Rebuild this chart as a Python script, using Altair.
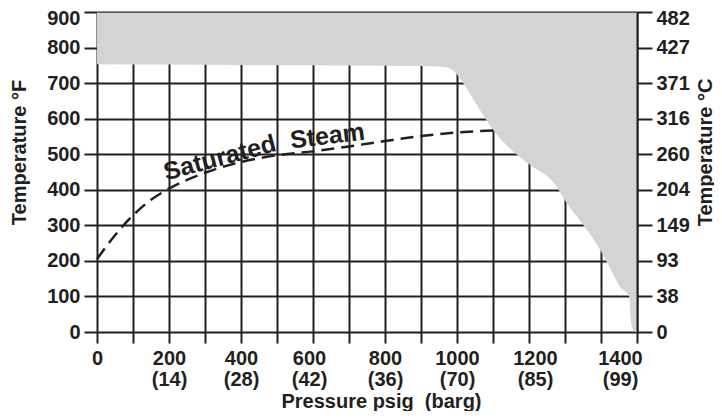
import altair as alt
import pandas as pd

# ---- data ----
# upper boundary of the shaded (not allowed) region
limit_psig = [0, 200, 400, 600, 800, 900, 960, 985, 1000, 1017, 1063, 1100, 1156, 1202,
              1276, 1299, 1350, 1397, 1430, 1452, 1478, 1485, 1497, 1500]
limit_degf = [753, 752, 751, 750, 749, 748, 746, 739, 724, 700, 625, 569, 508, 471,
              410, 372, 302, 232, 170, 128, 100, 16, 0, 0]

# saturated steam curve (dashed)
steam_psig = [0, 50, 100, 150, 200, 300, 400, 500, 600, 700, 800, 900, 1000, 1100]
steam_degf = [205, 272, 328, 372, 403, 448, 478, 497, 508, 522, 537, 551, 561, 567]

# curve label words
label_words = ["Saturated", "Steam"]
label_psig = [341, 640]
label_degf = [490, 551]

# axis labels
x_tick_values = list(range(0, 1600, 100))
x_label_psig = [0, 200, 400, 600, 800, 1000, 1200, 1400]
x_label_barg = ["", "(14)", "(28)", "(42)", "(36)", "(70)", "(85)", "(99)"]
y_tick_values = list(range(0, 1000, 100))
y_label_degc = ["0", "38", "93", "149", "204", "260", "316", "371", "427", "482"]

FONT = "Liberation Sans"
INK = "#231f20"
GRAY = "#d2d4d5"

limit_df = pd.DataFrame({"psig": limit_psig, "degf": limit_degf, "top": [900] * len(limit_psig)})
steam_df = pd.DataFrame({"psig": steam_psig, "degf": steam_degf})
label_df = pd.DataFrame({"word": label_words, "psig": label_psig, "degf": label_degf})

# label expressions
parts = []
for p, b in zip(x_label_psig, x_label_barg):
    if b:
        parts.append(f"datum.value == {p} ? ['{p}', '{b}']")
    else:
        parts.append(f"datum.value == {p} ? '{p}'")
x_label_expr = " : ".join(parts) + " : ''"

c_parts = [f"datum.value == {v} ? '{c}'" for v, c in zip(y_tick_values, y_label_degc)]
c_label_expr = " : ".join(c_parts) + " : ''"

x_scale = alt.Scale(domain=[0, 1500], nice=False, zero=False)
y_scale = alt.Scale(domain=[0, 900], nice=False)

y_label_offset = {"condition": [{"test": "datum.value == 900", "value": 6}], "value": 0}

x_axis = alt.Axis(
    values=x_tick_values, labelExpr=x_label_expr, grid=True, domain=False,
    gridColor=INK, gridWidth=2, gridOpacity=1,
    tickColor=INK, tickWidth=2, tickSize=11,
    labelFont=FONT, labelFontSize=20, labelFontWeight="bold", labelColor=INK,
    labelPadding=5, labelLineHeight=21, labelFlush=False, labelOverlap=False,
    labelOffset={"condition": [{"test": "datum.value == 1400", "value": 19},
                               {"test": "datum.value == 1200", "value": 6},
                               {"test": "datum.value == 600", "value": -4}],
                 "value": 0},
    title="Pressure psig \u00a0(barg)", titleFont=FONT, titleFontSize=20,
    titleFontWeight="bold", titleColor=INK, titleX=284, titleY=59,
    titleBaseline="top", titleAlign="center",
)
y_axis = alt.Axis(
    values=y_tick_values, grid=True, domain=False,
    gridColor=INK, gridWidth=2, gridOpacity=1,
    tickColor=INK, tickWidth=2, tickSize=13,
    labelFont=FONT, labelFontSize=20, labelFontWeight="bold", labelColor=INK,
    labelPadding=4, labelFlush=False, labelOverlap=False, labelOffset=y_label_offset,
    title="Temperature °F", titleFont=FONT, titleFontSize=20,
    titleFontWeight="bold", titleColor=INK, titleX=-78, titleY=140,
    titleAngle=270, titleBaseline="middle", titleAlign="center",
)

area = alt.Chart(limit_df).mark_area(color=GRAY, opacity=1, interpolate="monotone").encode(
    x=alt.X("psig:Q", scale=x_scale, axis=x_axis),
    y=alt.Y("degf:Q", scale=y_scale, axis=y_axis),
    y2="top:Q",
)

top_axis = alt.Axis(orient="top", domain=True, domainColor="#555555", domainWidth=1,
                    ticks=False, labels=False, grid=False, title=None, zindex=1)
right_axis = alt.Axis(
    orient="right", values=y_tick_values, labelExpr=c_label_expr, grid=False,
    domain=True, domainColor=INK, domainWidth=2,
    tickColor=INK, tickWidth=2, tickSize=15,
    labelFont=FONT, labelFontSize=20, labelFontWeight="bold", labelColor=INK,
    labelPadding=4, labelFlush=False, labelOverlap=False, labelOffset=y_label_offset,
    zindex=1,
    title="Temperature °C", titleFont=FONT, titleFontSize=20,
    titleFontWeight="bold", titleColor=INK, titleX=68, titleY=140,
    titleAngle=270, titleBaseline="middle", titleAlign="center",
)

steam = alt.Chart(steam_df).mark_line(
    color=INK, strokeWidth=2.5, strokeDash=[13, 7], interpolate="monotone"
).encode(
    x=alt.X("psig:Q", scale=x_scale, axis=top_axis),
    y=alt.Y("degf:Q", scale=y_scale, axis=right_axis),
)

def word(w, angle):
    return alt.Chart(label_df).transform_filter(alt.datum.word == w).mark_text(
        font=FONT, fontSize=25, fontWeight="bold", color=INK, angle=angle,
        align="center", baseline="middle"
    ).encode(
        x=alt.X("psig:Q", scale=x_scale, axis=None),
        y=alt.Y("degf:Q", scale=y_scale, axis=None),
        text="word:N",
    )

chart = alt.layer(area, steam, word("Saturated", 345), word("Steam", 353)).resolve_axis(
    x="independent", y="independent"
).properties(
    width=540, height=320,
    autosize=alt.AutoSizeParams(type="none"),
    padding={"left": 89, "top": 4, "right": 77, "bottom": 79},
    background="white",
).configure_view(stroke=None)

chart.save("out.html", embed_options={"renderer": "svg", "actions": False})
